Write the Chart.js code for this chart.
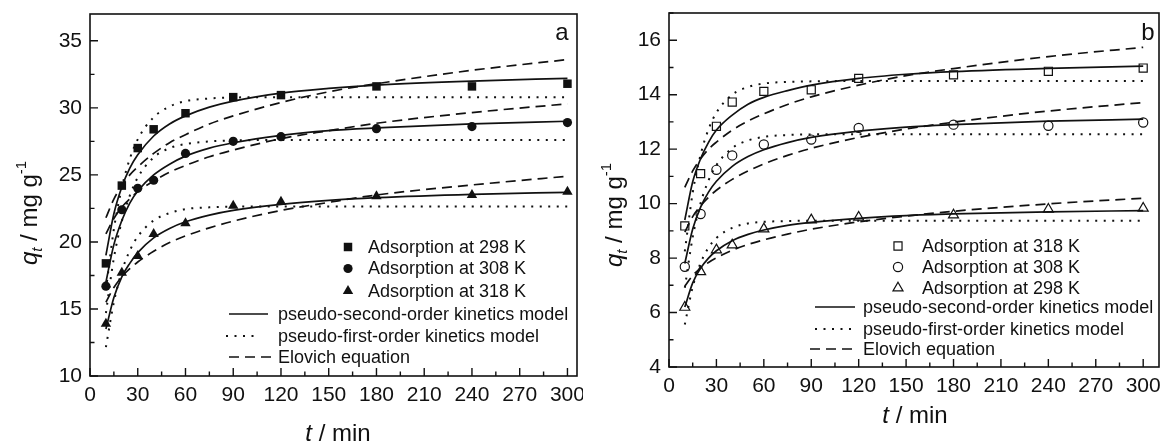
<!DOCTYPE html>
<html>
<head>
<meta charset="utf-8">
<script src="https://cdn.jsdelivr.net/npm/chart.js@4.4.1/dist/chart.umd.min.js"></script>
<style>
  html, body { margin: 0; padding: 0; background: #fff; }
  #wrap { position: relative; width: 1166px; height: 442px; overflow: hidden; }
  canvas { position: absolute; top: 0; }
  #kinA { left: 0; }
  #kinB { left: 583px; }
</style>
</head>
<body>
<div id="wrap">
  <canvas id="kinA" width="583" height="442"></canvas>
  <canvas id="kinB" width="583" height="442"></canvas>
</div>
<script>
// contact times (min)
const times = [10, 20, 30, 40, 60, 90, 120, 180, 240, 300];
const fitTimes = [10, 15, 20, 25, 30, 40, 50, 60, 75, 90, 120, 150, 180, 240, 300];
const xTicks = [0, 30, 60, 90, 120, 150, 180, 210, 240, 270, 300];

// panel a: measured uptake (mg/g)
const a298 = [18.4, 24.2, 27.0, 28.4, 29.6, 30.8, 30.95, 31.6, 31.6, 31.8];
const a308 = [16.7, 22.4, 24.0, 24.6, 26.6, 27.5, 27.85, 28.45, 28.6, 28.9];
const a318 = [13.9, 17.7, 18.95, 20.6, 21.4, 22.7, 23.0, 23.4, 23.5, 23.74];
// panel a: model curves
const aPSO298 = [19.0, 22.1, 24.1, 25.5, 26.5, 27.9, 28.8, 29.4, 30.05, 30.5, 31.1, 31.45, 31.7, 32.0, 32.2];
const aPSO308 = [17.0, 19.8, 21.6, 22.9, 23.8, 25.0, 25.8, 26.4, 27.0, 27.4, 27.95, 28.3, 28.5, 28.8, 29.0];
const aPSO318 = [13.5, 15.85, 17.4, 18.4, 19.2, 20.3, 21.0, 21.5, 22.0, 22.35, 22.8, 23.1, 23.3, 23.55, 23.7];
const aPFO298 = [16.4, 20.95, 24.05, 26.2, 27.65, 29.3, 30.1, 30.5, 30.7, 30.77, 30.8, 30.8, 30.8, 30.8, 30.8];
const aPFO308 = [14.7, 18.8, 21.55, 23.45, 24.8, 26.3, 27.0, 27.3, 27.5, 27.57, 27.6, 27.6, 27.6, 27.6, 27.6];
const aPFO318 = [12.15, 15.5, 17.8, 19.35, 20.4, 21.6, 22.15, 22.45, 22.58, 22.63, 22.65, 22.65, 22.65, 22.65, 22.65];
const aElo298 = [21.8, 23.2, 24.2, 25.0, 25.6, 26.6, 27.4, 28.0, 28.8, 29.4, 30.4, 31.2, 31.8, 32.8, 33.6];
const aElo308 = [20.6, 21.75, 22.6, 23.2, 23.75, 24.55, 25.2, 25.7, 26.35, 26.85, 27.7, 28.3, 28.85, 29.65, 30.3];
const aElo318 = [15.5, 16.6, 17.4, 18.0, 18.5, 19.3, 19.95, 20.45, 21.05, 21.55, 22.35, 22.95, 23.5, 24.25, 24.9];
const aYTicks = [10, 15, 20, 25, 30, 35];

// panel b: measured uptake (mg/g)
const b318 = [9.18, 11.1, 12.84, 13.73, 14.12, 14.18, 14.6, 14.73, 14.86, 14.98];
const b308 = [7.68, 9.62, 11.24, 11.77, 12.17, 12.35, 12.78, 12.9, 12.86, 12.98];
const b298 = [6.19, 7.5, 8.3, 8.48, 9.07, 9.4, 9.5, 9.58, 9.79, 9.83];
// panel b: model curves
const bPSO318 = [9.4, 10.8, 11.65, 12.25, 12.7, 13.25, 13.65, 13.9, 14.15, 14.35, 14.6, 14.75, 14.85, 14.97, 15.05];
const bPSO308 = [7.8, 9.07, 9.87, 10.42, 10.82, 11.37, 11.73, 11.98, 12.24, 12.43, 12.66, 12.81, 12.9, 13.03, 13.1];
const bPSO298 = [6.2, 7.09, 7.63, 8.0, 8.27, 8.64, 8.87, 9.03, 9.2, 9.31, 9.46, 9.56, 9.62, 9.7, 9.74];
const bPFO318 = [8.25, 10.4, 11.8, 12.73, 13.34, 14.0, 14.28, 14.41, 14.47, 14.49, 14.5, 14.5, 14.5, 14.5, 14.5];
const bPFO308 = [6.91, 8.77, 10.02, 10.85, 11.41, 12.04, 12.32, 12.45, 12.52, 12.54, 12.55, 12.55, 12.55, 12.55, 12.55];
const bPFO298 = [5.56, 6.94, 7.82, 8.38, 8.74, 9.11, 9.27, 9.33, 9.36, 9.37, 9.37, 9.37, 9.37, 9.37, 9.37];
const bElo318 = [10.6, 11.2, 11.65, 12.0, 12.26, 12.7, 13.03, 13.3, 13.64, 13.92, 14.35, 14.7, 14.96, 15.4, 15.74];
const bElo308 = [8.95, 9.52, 9.92, 10.23, 10.49, 10.89, 11.2, 11.46, 11.77, 12.03, 12.43, 12.74, 12.99, 13.4, 13.71];
const bElo298 = [6.97, 7.36, 7.63, 7.84, 8.01, 8.29, 8.5, 8.67, 8.88, 9.06, 9.33, 9.54, 9.72, 9.99, 10.2];
const bYTicks = [4, 6, 8, 10, 12, 14, 16];

const INK = '#111';
const FONT = '"Liberation Sans", Arial, sans-serif';
const SOLID = [], DOTS = [2, 6.5], DASH = [10, 6];

function curve(ys, dash) {
  return {
    data: fitTimes.map((t, i) => ({ x: t, y: ys[i] })),
    borderColor: INK, borderWidth: dash === DOTS ? 2 : 1.7, borderDash: dash,
    pointRadius: 0, cubicInterpolationMode: 'monotone', fill: false, order: 2
  };
}

function marks(ys, style, radius, filled) {
  return {
    data: times.map((t, i) => ({ x: t, y: ys[i] })),
    showLine: false, pointStyle: style, pointRadius: radius,
    pointBackgroundColor: filled ? INK : 'rgba(0,0,0,0)',
    pointBorderColor: INK, pointBorderWidth: filled ? 0 : 1.2, order: 1
  };
}

// frame with inward major/minor ticks
const framePlugin = {
  id: 'frame',
  afterDraw(chart, args, o) {
    const { ctx, chartArea: ca, scales: { x, y } } = chart;
    ctx.save();
    ctx.strokeStyle = INK;
    ctx.lineWidth = 1.6;
    ctx.strokeRect(ca.left, ca.top, ca.right - ca.left, ca.bottom - ca.top);
    ctx.lineWidth = 1.4;
    ctx.beginPath();
    for (let i = 0; i <= 20; i++) {
      const px = x.getPixelForValue(i * 15);
      const len = i % 2 === 0 ? 8 : 4.5;
      ctx.moveTo(px, ca.bottom); ctx.lineTo(px, ca.bottom - len);
    }
    const n = Math.floor((y.max - y.min) / o.yMinor + 1e-6);
    for (let i = 0; i <= n; i++) {
      const py = y.getPixelForValue(y.min + i * o.yMinor);
      const len = i % 2 === 0 ? 8 : 4.5;
      ctx.moveTo(ca.left, py); ctx.lineTo(ca.left + len, py);
    }
    ctx.stroke();
    ctx.restore();
  }
};

// axis titles, panel letter and legend
const notesPlugin = {
  id: 'notes',
  afterDraw(chart, args, o) {
    const ctx = chart.ctx;
    ctx.save();
    ctx.fillStyle = INK;
    ctx.textBaseline = 'alphabetic';

    // y title: q_t / mg g^-1
    const big = 24, small = 15;
    const parts = [
      { t: 'q', f: 'italic ' + big + 'px ' + FONT, dy: 0 },
      { t: 't', f: 'italic ' + small + 'px ' + FONT, dy: 5 },
      { t: ' / mg g', f: big + 'px ' + FONT, dy: 0 },
      { t: '-1', f: small + 'px ' + FONT, dy: -11 }
    ];
    let w = 0;
    parts.forEach(p => { ctx.font = p.f; p.w = ctx.measureText(p.t).width; w += p.w; });
    ctx.save();
    ctx.translate(o.yTitle[0], o.yTitle[1]);
    ctx.rotate(-Math.PI / 2);
    let cx = -w / 2;
    parts.forEach(p => { ctx.font = p.f; ctx.fillText(p.t, cx, 8 + p.dy); cx += p.w; });
    ctx.restore();

    // x title: t / min
    const xp = [
      { t: 't', f: 'italic ' + big + 'px ' + FONT },
      { t: ' / min', f: big + 'px ' + FONT }
    ];
    w = 0;
    xp.forEach(p => { ctx.font = p.f; p.w = ctx.measureText(p.t).width; w += p.w; });
    cx = o.xTitle[0] - w / 2;
    xp.forEach(p => { ctx.font = p.f; ctx.fillText(p.t, cx, o.xTitle[1] + 8); cx += p.w; });

    // panel letter
    ctx.font = '24px ' + FONT;
    ctx.textAlign = 'center';
    ctx.textBaseline = 'middle';
    ctx.fillText(o.letter, o.letterAt[0], o.letterAt[1]);

    // legend
    ctx.font = '18px ' + FONT;
    ctx.textAlign = 'left';
    o.symbols.forEach(s => {
      ctx.fillStyle = s.filled ? INK : 'rgba(0,0,0,0)';
      ctx.strokeStyle = INK;
      ctx.lineWidth = 1.2;
      Chart.helpers.drawPoint(ctx, { pointStyle: s.style, radius: s.r, rotation: 0, borderWidth: s.filled ? 0 : 1.2 }, o.symX, s.y);
      ctx.fillStyle = INK;
      ctx.fillText(s.label, o.symTextX, s.y + 1);
    });
    o.lines.forEach(l => {
      ctx.strokeStyle = INK;
      ctx.lineWidth = l.dash === DOTS ? 2 : 1.7;
      ctx.setLineDash(l.dash);
      ctx.beginPath();
      ctx.moveTo(l.x0, l.y); ctx.lineTo(l.x1, l.y);
      ctx.stroke();
      ctx.setLineDash([]);
      ctx.fillStyle = INK;
      ctx.fillText(l.label, o.lineTextX, l.y + 1);
    });
    ctx.restore();
  }
};

function panel(id, cfg) {
  new Chart(document.getElementById(id), {
    type: 'line',
    data: { datasets: cfg.datasets },
    options: {
      responsive: false, animation: false, events: [],
      layout: { padding: { left: 0, right: 5, top: cfg.top, bottom: 0 } },
      scales: {
        x: {
          type: 'linear', min: 0, max: cfg.xMax,
          grid: { display: false, drawTicks: false }, border: { display: false },
          ticks: { font: { family: FONT, size: 21 }, color: INK, padding: 7, maxRotation: 0 },
          afterBuildTicks: s => { s.ticks = xTicks.map(v => ({ value: v })); },
          afterFit: s => { s.height = cfg.xHeight; s.paddingLeft = 0; s.paddingRight = 0; }
        },
        y: {
          type: 'linear', min: cfg.yMin, max: cfg.yMax,
          grid: { display: false, drawTicks: false }, border: { display: false },
          ticks: { font: { family: FONT, size: 21 }, color: INK, padding: 8 },
          afterBuildTicks: s => { s.ticks = cfg.yTicks.map(v => ({ value: v })); },
          afterFit: s => { s.width = cfg.yWidth; s.paddingTop = 0; s.paddingBottom = 0; }
        }
      },
      plugins: {
        legend: { display: false }, tooltip: { enabled: false },
        frame: { yMinor: cfg.yMinor },
        notes: cfg.notes
      }
    },
    plugins: [framePlugin, notesPlugin]
  });
}

panel('kinA', {
  top: 14, xHeight: 66, yWidth: 90, xMax: 306, yMin: 10, yMax: 37, yMinor: 2.5, yTicks: aYTicks,
  datasets: [
    marks(a298, 'rect', 6, true), marks(a308, 'circle', 4.6, true), marks(a318, 'triangle', 6, true),
    curve(aPSO298, SOLID), curve(aPSO308, SOLID), curve(aPSO318, SOLID),
    curve(aPFO298, DOTS), curve(aPFO308, DOTS), curve(aPFO318, DOTS),
    curve(aElo298, DASH), curve(aElo308, DASH), curve(aElo318, DASH)
  ],
  notes: {
    yTitle: [29, 213], xTitle: [338, 433], letter: 'a', letterAt: [562, 33],
    symX: 348, symTextX: 368, lineTextX: 278,
    symbols: [
      { style: 'rect', r: 6, filled: true, y: 247, label: 'Adsorption at 298 K' },
      { style: 'circle', r: 4.6, filled: true, y: 268.5, label: 'Adsorption at 308 K' },
      { style: 'triangle', r: 6, filled: true, y: 291, label: 'Adsorption at 318 K' }
    ],
    lines: [
      { dash: SOLID, x0: 229, x1: 268, y: 314, label: 'pseudo-second-order kinetics model' },
      { dash: DOTS, x0: 226, x1: 260, y: 336, label: 'pseudo-first-order kinetics model' },
      { dash: DASH, x0: 229, x1: 272, y: 357, label: 'Elovich equation' }
    ]
  }
});

panel('kinB', {
  top: 13, xHeight: 75, yWidth: 86, xMax: 310, yMin: 4, yMax: 17, yMinor: 1, yTicks: bYTicks,
  datasets: [
    marks(b318, 'rect', 5.7, false), marks(b308, 'circle', 4.6, false), marks(b298, 'triangle', 5.8, false),
    curve(bPSO318, SOLID), curve(bPSO308, SOLID), curve(bPSO298, SOLID),
    curve(bPFO318, DOTS), curve(bPFO308, DOTS), curve(bPFO298, DOTS),
    curve(bElo318, DASH), curve(bElo308, DASH), curve(bElo298, DASH)
  ],
  notes: {
    yTitle: [31, 215], xTitle: [332, 415], letter: 'b', letterAt: [565, 33],
    symX: 315, symTextX: 339, lineTextX: 280,
    symbols: [
      { style: 'rect', r: 5.7, filled: false, y: 246, label: 'Adsorption at 318 K' },
      { style: 'circle', r: 4.6, filled: false, y: 267, label: 'Adsorption at 308 K' },
      { style: 'triangle', r: 5.8, filled: false, y: 288, label: 'Adsorption at 298 K' }
    ],
    lines: [
      { dash: SOLID, x0: 232, x1: 272, y: 307, label: 'pseudo-second-order kinetics model' },
      { dash: DOTS, x0: 232, x1: 268, y: 329, label: 'pseudo-first-order kinetics model' },
      { dash: DASH, x0: 227, x1: 269, y: 349, label: 'Elovich equation' }
    ]
  }
});
</script>
</body>
</html>
